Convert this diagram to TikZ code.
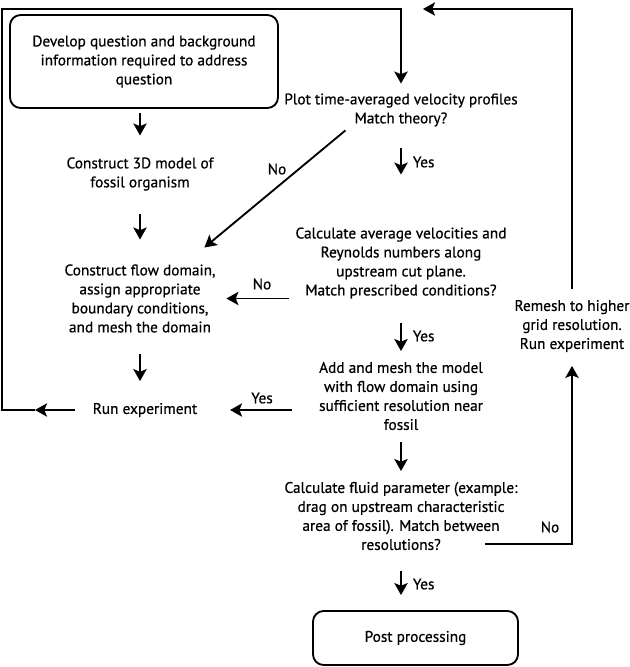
\documentclass[tikz,border=0pt]{standalone}
\usepackage{fontspec}
\setmainfont{PT Sans}[FakeBold=0.6]
\usetikzlibrary{arrows.meta}

\begin{document}
\begin{tikzpicture}[x=0.75pt, y=-0.75pt, line width=1.4pt,
    arr/.style={-{Stealth[length=9pt,width=10pt,inset=2pt]}},
    txt/.style={align=center, inner sep=0pt, font=\fontsize{11.5}{14.25}\selectfont},
    endbox/.style={txt, draw, rounded corners=8pt}]
    \useasboundingbox (0,0) rectangle (630,667);

    \node[endbox, minimum width=201pt, minimum height=69.75pt] (start) at (144,61.5)
        {Develop question and background\\information required to address\\question};
    \node[txt] (model) at (140,174) {Construct 3D model of\\fossil organism};
    \node[txt] (flow) at (140,298.5) {Construct flow domain,\\assign appropriate\\boundary conditions,\\and mesh the domain};
    \node[txt] (run) at (145,410) {Run experiment};

    \node[txt] (plot) at (401,110) {Plot time-averaged velocity profiles\\Match theory?};
    \node[txt] (calc) at (401,263) {Calculate average velocities and\\Reynolds numbers along\\upstream cut plane.\\Match prescribed conditions?};
    \node[txt] (add) at (401,396) {Add and mesh the model\\with flow domain using\\sufficient resolution near\\fossil};
    \node[txt] (fluid) at (401,516) {Calculate fluid parameter (example:\\drag on upstream characteristic\\area of fossil). Match between\\resolutions?};
    \node[txt] (remesh) at (572,326) {Remesh to higher\\grid resolution.\\Run experiment};
    \node[endbox, minimum width=153.75pt, minimum height=40.5pt] (post) at (415.5,638) {Post processing};

    \node[txt] (nolab1) at (277,169) {No};
    \node[txt, anchor=west] (yeslab1) at (412,162) {Yes};
    \node[txt] (nolab2) at (262,284) {No};
    \node[txt, anchor=west] (yeslab2) at (412,336) {Yes};
    \node[txt] (yeslab3) at (262,398) {Yes};
    \node[txt] (nolab3) at (550,527) {No};
    \node[txt, anchor=west] (yeslab4) at (412,584) {Yes};

    \coordinate (loopa) at (35,410);
    \coordinate (loopb) at (2,410);
    \coordinate (loopc) at (2,9);
    \coordinate (rejoin) at (423,9);

    \draw[arr, shorten <=3pt, shorten >=15.75pt] (start.south -| model.north) -- (model.north);
    \draw[arr, shorten <=16.5pt, shorten >=18pt] (model.south) -- (flow.north);
    \draw[arr, shorten <=15.75pt, shorten >=15.75pt] (flow.south) -- (flow.south |- run.north);
    \draw[arr, shorten <=12.75pt] (run.west) -- (loopa);
    \draw[arr, shorten >=6.75pt] (loopa) -- (loopb) -- (loopc) -| (plot.north);

    \draw[arr] ([shift={(62,3)}]plot.south west) -- ([shift={(-12,-16)}]flow.north east);
    \draw[arr, shorten <=15.75pt, shorten >=39pt] (plot.south) -- (calc.north);
    \draw[arr, shorten <=4.5pt, shorten >=7.5pt] (calc.west |- flow.east) -- (flow.east);
    \draw[arr, shorten <=18pt, shorten >=7.5pt] (calc.south) -- (add.north);
    \draw[arr, shorten <=19.5pt, shorten >=24pt] (add.west |- run.east) -- (run.east);
    \draw[arr, shorten <=8.25pt, shorten >=7.5pt] (add.south) -- (fluid.north);
    \draw[arr, shorten <=15pt, shorten >=11.25pt] (fluid.south) -- (fluid.south |- post.north);
    \draw[arr, shorten >=9.75pt] ([xshift=-24.75pt, yshift=5pt]fluid.south east) -| (remesh.south);
    \draw[arr, shorten <=7.5pt] (remesh.north) |- (rejoin);
\end{tikzpicture}
\end{document}
